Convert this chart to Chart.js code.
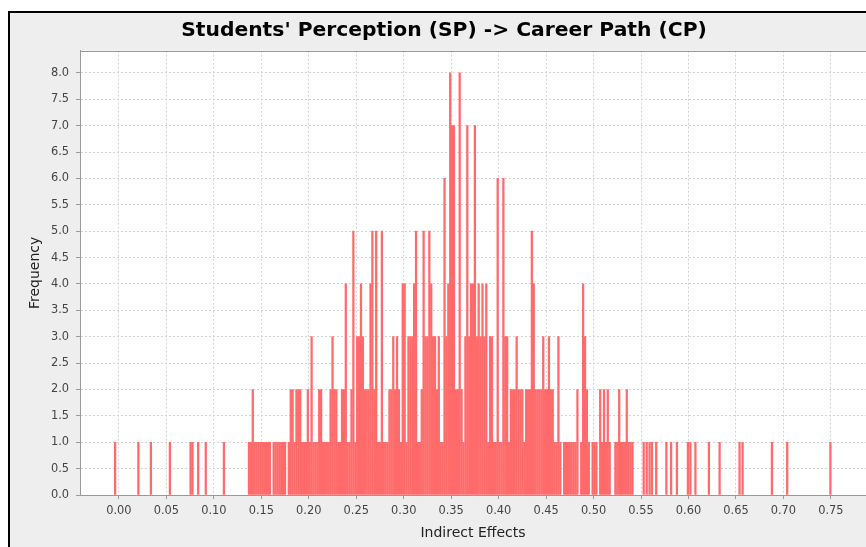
<!DOCTYPE html>
<html>
<head>
<meta charset="utf-8">
<script src="https://cdn.jsdelivr.net/npm/chart.js@4.4.0/dist/chart.umd.min.js"></script>
<style>
html, body { margin: 0; padding: 0; background: #fff; overflow: hidden; }
#frame {
    position: absolute; left: 8px; top: 11px;
    width: 856px; height: 534px;
    border-left: 2px solid #000; border-top: 2px solid #000;
    background: #eeeeee;
}
</style>
</head>
<body>
<div id="frame"><canvas id="histogram" width="856" height="534"></canvas></div>
<script>
var chart_title = "Students' Perception (SP) -> Career Path (CP)";
var x_title = "Indirect Effects";
var y_title = "Frequency";

// bin positions (indirect effect) and counts
var effect_values = [
    -0.004, 0.0205, 0.0337, 0.0537, 0.0755, 0.0775, 0.0835, 0.0915, 0.1106,
    0.137, 0.139, 0.141, 0.143, 0.145, 0.147, 0.149, 0.151, 0.153, 0.155, 0.157, 0.159,
    0.163, 0.165, 0.167, 0.169, 0.171, 0.173, 0.175, 0.179,
    0.181, 0.183, 0.185, 0.187, 0.189, 0.191, 0.193, 0.195, 0.197, 0.199,
    0.201, 0.203, 0.205, 0.207, 0.209, 0.211, 0.213, 0.215, 0.217, 0.219,
    0.221, 0.223, 0.225, 0.227, 0.229, 0.231, 0.233, 0.235, 0.237, 0.239,
    0.241, 0.243, 0.245, 0.247, 0.249, 0.251, 0.253, 0.255, 0.257, 0.259,
    0.261, 0.263, 0.265, 0.267, 0.269, 0.271, 0.273, 0.275, 0.277, 0.279,
    0.281, 0.283, 0.285, 0.287, 0.289, 0.291, 0.293, 0.295, 0.297, 0.299,
    0.301, 0.303, 0.305, 0.307, 0.309, 0.311, 0.313, 0.315, 0.317, 0.319,
    0.321, 0.323, 0.325, 0.327, 0.329, 0.331, 0.333, 0.335, 0.337, 0.339,
    0.341, 0.343, 0.345, 0.347, 0.349, 0.351, 0.353, 0.355, 0.357, 0.359,
    0.361, 0.363, 0.365, 0.367, 0.369, 0.371, 0.373, 0.375, 0.377, 0.379,
    0.381, 0.383, 0.385, 0.387, 0.389, 0.391, 0.393, 0.395, 0.397, 0.399,
    0.401, 0.403, 0.405, 0.407, 0.409, 0.411, 0.413, 0.415, 0.417, 0.419,
    0.421, 0.423, 0.425, 0.427, 0.429, 0.431, 0.433, 0.435, 0.437, 0.439,
    0.441, 0.443, 0.445, 0.447, 0.449, 0.451, 0.453, 0.455, 0.457, 0.459,
    0.461, 0.463, 0.465, 0.469, 0.471, 0.473, 0.475, 0.477, 0.479,
    0.481, 0.483, 0.487, 0.489, 0.491, 0.493, 0.495, 0.499,
    0.501, 0.503, 0.507, 0.509, 0.511, 0.513, 0.515, 0.517,
    0.523, 0.525, 0.527, 0.529, 0.531, 0.533, 0.535, 0.537, 0.539, 0.541,
    0.5528, 0.556, 0.559, 0.5615, 0.566, 0.5767, 0.5817, 0.5878, 0.5994, 0.602,
    0.6073, 0.6215, 0.6328, 0.6538, 0.657, 0.6879, 0.704, 0.7495
];
var frequencies = [
    1, 1, 1, 1, 1, 1, 1, 1, 1,
    1, 1, 2, 1, 1, 1, 1, 1, 1, 1, 1, 1,
    1, 1, 1, 1, 1, 1, 1, 1,
    2, 2, 1, 2, 2, 2, 1, 1, 1, 2,
    1, 3, 1, 1, 1, 2, 2, 1, 1, 1,
    1, 2, 3, 2, 2, 1, 1, 2, 2, 4,
    1, 1, 2, 5, 1, 3, 3, 4, 3, 2,
    2, 2, 4, 5, 2, 5, 1, 1, 5, 1,
    1, 1, 2, 2, 3, 2, 3, 2, 1, 4,
    4, 1, 3, 3, 3, 4, 5, 1, 1, 2,
    5, 3, 3, 5, 4, 3, 3, 2, 3, 1,
    1, 6, 3, 4, 8, 7, 7, 2, 2, 8,
    2, 1, 3, 7, 3, 4, 4, 7, 3, 4,
    3, 4, 3, 4, 1, 3, 3, 1, 1, 6,
    1, 1, 6, 3, 3, 1, 2, 2, 2, 3,
    2, 2, 2, 1, 2, 2, 2, 5, 4, 2,
    2, 2, 2, 3, 2, 2, 3, 2, 2, 1,
    1, 3, 1, 1, 1, 1, 1, 1, 1,
    1, 2, 1, 4, 3, 2, 1, 1,
    1, 1, 2, 1, 2, 1, 2, 1,
    1, 1, 2, 1, 1, 1, 2, 1, 1, 1,
    1, 1, 1, 1, 1, 1, 1, 1, 1, 1,
    1, 1, 1, 1, 1, 1, 1, 1
];

var x_min = -0.041, x_max = 0.787, x_step = 0.05;
var y_min = 0, y_max = 8.42, y_step = 0.5;

var tick_font = { family: "DejaVu Sans", size: 11.4 };
var label_font = { family: "DejaVu Sans", size: 14 };
var grid_color = "#d4d4d4";
var axis_color = "#999999";

// white plot background and the top edge of the plot box
var plot_box = {
    id: "plot_box",
    beforeDraw: function (chart) {
        let a = chart.chartArea;
        let ctx = chart.ctx;
        ctx.save();
        ctx.fillStyle = "#ffffff";
        ctx.fillRect(a.left, a.top, a.right - a.left, a.bottom - a.top);
        ctx.restore();
    },
    afterDraw: function (chart) {
        let a = chart.chartArea;
        let ctx = chart.ctx;
        let top = Math.round(a.top) + 0.5;
        ctx.save();
        ctx.strokeStyle = axis_color;
        ctx.lineWidth = 1;
        ctx.beginPath();
        ctx.moveTo(a.left, top);
        ctx.lineTo(a.right, top);
        ctx.stroke();
        ctx.restore();
    }
};

var points = [];
for (let i = 0; i < effect_values.length; i++) {
    points.push({ x: effect_values[i], y: frequencies[i] });
}

var ctx = document.getElementById("histogram").getContext("2d");
var chart = new Chart(ctx, {
    type: "bar",
    data: {
        datasets: [{
            data: points,
            backgroundColor: "#ff6a6a",
            borderWidth: 0,
            barThickness: 1.6,
            grouped: false
        }]
    },
    options: {
        responsive: false,
        animation: false,
        layout: { padding: { left: 12, right: 0, top: 0, bottom: 0 } },
        plugins: {
            legend: { display: false },
            tooltip: { enabled: false },
            title: {
                display: true,
                text: chart_title,
                color: "#000000",
                font: { family: "DejaVu Sans", size: 20.3, weight: "bold", lineHeight: 1.2 },
                padding: { top: 6, bottom: 7.34 }
            }
        },
        scales: {
            x: {
                type: "linear",
                min: x_min,
                max: x_max,
                offset: false,
                grid: {
                    offset: false,
                    color: grid_color,
                    lineWidth: 1,
                    tickLength: 4,
                    tickColor: axis_color,
                    tickBorderDash: []
                },
                border: { display: true, color: axis_color, width: 1, dash: [2, 2] },
                ticks: {
                    stepSize: x_step,
                    includeBounds: false,
                    autoSkip: false,
                    maxRotation: 0,
                    padding: 5.6,
                    color: "#444444",
                    font: tick_font,
                    callback: function (v) { return v.toFixed(2); }
                },
                title: {
                    display: true,
                    text: x_title,
                    color: "#222222",
                    font: label_font,
                    padding: { top: 0, bottom: 5.4 }
                },
                afterFit: function (scale) { scale.height = 52; }
            },
            y: {
                min: y_min,
                max: y_max,
                grid: {
                    color: grid_color,
                    lineWidth: 1,
                    tickLength: 4,
                    tickColor: axis_color,
                    tickBorderDash: []
                },
                border: { display: true, color: axis_color, width: 1, dash: [2, 2] },
                ticks: {
                    stepSize: y_step,
                    includeBounds: false,
                    padding: 7,
                    color: "#444444",
                    font: tick_font,
                    callback: function (v) { return v.toFixed(1); }
                },
                title: {
                    display: true,
                    text: y_title,
                    color: "#222222",
                    font: label_font,
                    padding: { top: 4.6, bottom: 0 }
                },
                afterFit: function (scale) { scale.width = 58; }
            }
        }
    },
    plugins: [plot_box]
});
</script>
</body>
</html>
